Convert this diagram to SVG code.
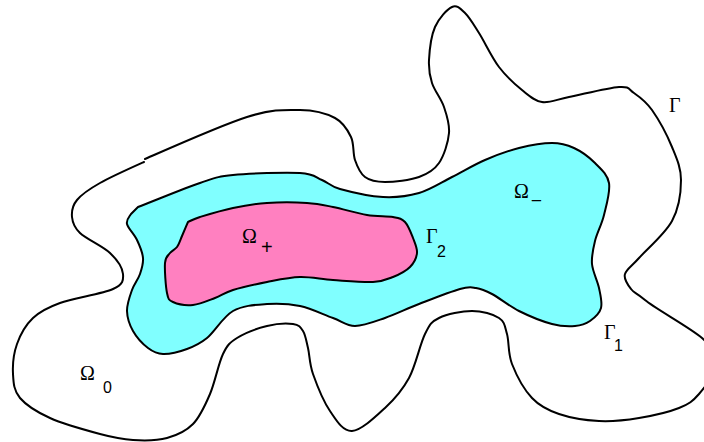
<svg xmlns="http://www.w3.org/2000/svg" width="704" height="442" viewBox="0 0 704 442">
<style>
.ln{fill:none;stroke:#000;stroke-width:2;stroke-linejoin:round;stroke-linecap:round}
.rg{stroke:#000;stroke-width:2;stroke-linejoin:round}
.sym{font-family:"Liberation Serif","Times New Roman",serif;font-size:20px;fill:#000}
.sub{font-family:"Liberation Sans",Arial,sans-serif;font-size:16px;fill:#000}
</style>
<rect width="704" height="442" fill="#fff"/>
<g id="outer-boundary">
<path class="ln" d="M145,159 C162.2,151.5 221.2,125.2 247,117 S285.3,109.8 300,110 S326.5,113.5 335,118 S347.7,130 351,137 S352.7,153.3 355,160 S360,173.3 365,177 S376,182 385,182 S410,180.2 419,177 S434,170.3 439,163 S448.2,142.3 449,133 S446.8,115.3 444,107 S434.5,90.8 432,83 S428.5,69.3 429,60 S431.2,35.8 435,27 S447,9.3 452,7 S460.5,8.7 465,13 S473.3,24 479,33 S491.8,57.5 499,67 S514.8,84.2 522,90 S534.2,100.8 542,102 S556.2,99.5 569,97 S608.2,87.7 619,87 S628.5,89.2 634,93 S645.7,101 652,110 S667.2,135.3 672,147 S681,167.7 681,180 S679,208 672,221 S646.8,249.2 639,258 S626.7,269 625,274 S627.7,284.7 631,289 S635.5,291.8 645,300 S690.8,328 702,338 S716.5,355.7 716,365 S705.2,386.8 699,394 S689,404 679,408 S652.3,415.8 639,418 S612.3,421.7 599,421 S570.2,417.8 559,414 S539.8,406.3 532,398 S516.2,374.7 512,364 S509.2,341.7 507,334 S504.8,321.8 499,318 S482,311 472,311 S446.8,314.2 439,318 S430,324 425,334 S415.7,365.7 409,378 S394.5,399.2 385,408 S361.2,430.5 352,431 S336.5,420.5 330,411 S316.7,384.5 313,374 S309.7,355.2 308,348 S305.5,335 303,331 S299,324.8 293,324 S276.3,323.7 267,326 S244.3,333.3 237,338 S227.5,344.7 223,354 S215,382.3 210,394 S200.2,416.7 193,424 S177,435.3 167,438 S144.2,440.7 133,440 S113.8,437.7 100,434 S63.3,424 50,418 S26.2,405.3 20,398 S13.5,383 13,374 S13.7,353.3 17,344 S25.8,324.8 33,318 S46.7,307.8 60,303 S102.5,293.8 113,289 S123.5,280 123,274 S117.2,259.8 110,253 S86.3,239 80,233 S72.5,222.5 72,217 S72.3,205.7 77,200 S88.8,189.3 100,183 S119.5,173 144,162"/>
</g>
<g id="omega-minus">
<path class="rg" fill="#80FFFF" d="M138,207 C158.7,199 184.2,188.3 200,183 S216.3,176.7 233,175 S285.2,172.2 300,173 S315.3,177.3 322,180 S329.8,186.2 340,189 S369.8,196.3 383,197 S407.5,196.3 419,193 S441,182.5 452,177 S473.8,164.8 485,160 S507.8,150.8 519,148 S542.8,143 552,143 S566.8,144.7 574,148 S589.2,157.2 595,163 S607.5,174.3 609,183 S606.3,205.3 604,215 S597,232.8 595,241 S591.3,256.2 592,264 S597.5,280.7 599,288 S602.5,302.5 601,308 S594.3,318 590,321 S581.3,325.5 575,326 S561.3,326.5 552,324 S529,316 519,311 S499.2,297.8 492,294 S481.3,288.8 476,288 S469.5,286.3 460,289 S431.5,299.2 419,304 S395.7,314.3 385,318 S363.7,326 355,326 S342.2,321.3 333,318 S311,308.3 300,306 S278.2,303.2 267,304 S243,305.3 233,311 S214.7,331.7 207,338 S194.3,346.3 187,349 S169.5,354.2 163,354 S153,351.8 148,348 S136.5,337.2 133,331 S127.2,317.8 127,311 S129.8,296.2 132,290 S138.2,279.3 140,274 S143.5,263.7 143,258 S139.7,245.7 137,240 S128,228.3 127,224 S129.2,216.8 131,214 Z"/>
</g>
<g id="omega-plus">
<path class="rg" fill="#FF80C0" d="M188,222 C192,220.3 192.5,219.3 200,217 S221.8,210.3 233,208 S254.7,203.8 267,203 S296,202.3 307,203 S323,205 333,207 S357,213.3 367,215 S386.7,215.8 393,217 S401.7,218.5 405,222 S411,232.8 413,238 S417.5,248.2 417,253 S414,263 410,267 S399.2,274.5 393,277 S383,281.5 373,282 S345.2,280.8 333,280 S311,276.7 300,277 S278.2,279.8 267,282 S241.7,287.3 233,290 S221.7,295.5 215,298 S200,304.3 193,305 S177.3,304 173,302 S168.3,299.5 167,293 S164.5,269.7 165,263 S168,255.7 170,253 S175,249.8 177,247 S180.2,240.2 182,236 S186,226.7 188,222 Z"/>
</g>
<g id="labels">
<text class="sym" x="669" y="112">Γ</text>
<text class="sym" x="514" y="198">Ω</text><text class="sub" x="532" y="198">_</text>
<text class="sym" x="242" y="243">Ω</text><text class="sub" x="261" y="254" style="font-size:20px">+</text>
<text class="sym" x="426" y="243">Γ</text><text class="sub" x="437" y="257">2</text>
<text class="sym" x="604" y="339">Γ</text><text class="sub" x="614" y="351">1</text>
<text class="sym" x="80" y="380">Ω</text><text class="sub" x="103" y="393">0</text>
</g>
</svg>
